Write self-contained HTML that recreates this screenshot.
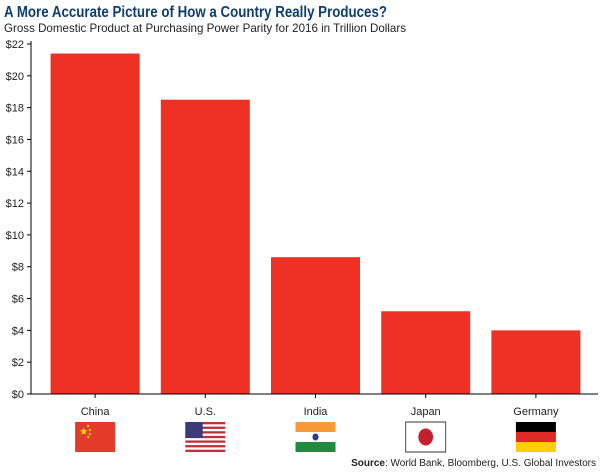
<!DOCTYPE html>
<html><head><meta charset="utf-8"><style>
body{margin:0;background:#fff;width:600px;height:470px;overflow:hidden;font-family:"Liberation Sans",sans-serif}
</style></head><body>
<svg width="600" height="470" id="svg">
<text x="4" y="17" font-size="15.5" font-weight="bold" fill="#0e3d6e" textLength="383" lengthAdjust="spacingAndGlyphs">A More Accurate Picture of How a Country Really Produces?</text>
<text x="4" y="32" font-size="12" fill="#222" textLength="402" lengthAdjust="spacingAndGlyphs">Gross Domestic Product at Purchasing Power Parity for 2016 in Trillion Dollars</text>
<g id="yaxis"></g>
<g id="bars"></g>
<g id="xaxis"></g>
<text x="596" y="466" font-size="10" text-anchor="end" fill="#222"><tspan font-weight="bold">Source</tspan>: World Bank, Bloomberg, U.S. Global Investors</text>
</svg>
<script>
const categories=["China","U.S.","India","Japan","Germany"];
const values=[21.4,18.5,8.6,5.2,4.0];
const yTicks=[0,2,4,6,8,10,12,14,16,18,20,22];
const NS="http://www.w3.org/2000/svg";
const x0=40,x1=591,yB=394,yT=44,yMax=22;
const y=v=>yB-(yB-yT)*v/yMax;
const band=(x1-x0)/categories.length;
const cx=i=>x0+band*(i+0.5);
function mk(t,a,p){const e=document.createElementNS(NS,t);for(const k in a)e.setAttribute(k,a[k]);p.appendChild(e);return e;}
const ya=document.getElementById('yaxis'),bg=document.getElementById('bars'),xa=document.getElementById('xaxis');
const ax=mk('line',{x1:31,x2:31,y1:yT-3,y2:yB,stroke:'#000','stroke-width':1},ya);

yTicks.forEach(v=>{
 const l=mk('line',{x1:27,x2:31,y1:y(v),y2:y(v),stroke:'#000'},ya);
 
 const t=mk('text',{x:24,y:y(v)+4,'font-size':11,'text-anchor':'end',fill:'#222'},ya);t.textContent='$'+v;
 
});
values.forEach((v,i)=>{
 const r=mk('rect',{x:cx(i)-44.5,y:y(v),width:89,height:yB-y(v),fill:'#ee3124'},bg);
 
 
});
const bl=mk('line',{x1:31,x2:598,y1:yB,y2:yB,stroke:'#000'},xa);

const flags=[
 '<rect width="46" height="30" fill="#e23a2b"/><text x="5" y="13" font-size="11" fill="#ffde00">★</text><circle cx="15" cy="4" r="1.2" fill="#ffde00"/><circle cx="17" cy="8" r="1.2" fill="#ffde00"/><circle cx="17" cy="12" r="1.2" fill="#ffde00"/><circle cx="15" cy="15" r="1.2" fill="#ffde00"/>',
 '<rect width="46" height="30" fill="#fff"/>'+[0,2,4,6,8,10,12].map(k=>`<rect y="${k*30/13}" width="46" height="${30/13}" fill="#c0303a"/>`).join('')+'<rect width="20" height="16" fill="#3b3b7a"/>',
 '<rect width="46" height="10" fill="#f79a3a"/><rect y="10" width="46" height="10" fill="#fff"/><rect y="20" width="46" height="10" fill="#1f8a40"/><circle cx="23" cy="15" r="3.5" fill="#2b3a8a"/>',
 '<rect width="46" height="30" fill="#fff" stroke="#333"/><circle cx="23" cy="15" r="8.5" fill="#c4202e"/>',
 '<rect width="46" height="10" fill="#000"/><rect y="10" width="46" height="10" fill="#dd2a24"/><rect y="20" width="46" height="10" fill="#ffcf00"/>'
];
categories.forEach((c,i)=>{
 const tk=mk('line',{x1:cx(i),x2:cx(i),y1:yB,y2:yB+4,stroke:'#000'},xa);
 
 const t=mk('text',{x:cx(i),y:415,'font-size':11,'text-anchor':'middle',fill:'#222'},xa);t.textContent=c;
 
 const g=mk('g',{transform:`translate(${cx(i)-20},422) scale(${40/46},1)`},xa);g.innerHTML=flags[i];
 
});
</script>
</body></html>
